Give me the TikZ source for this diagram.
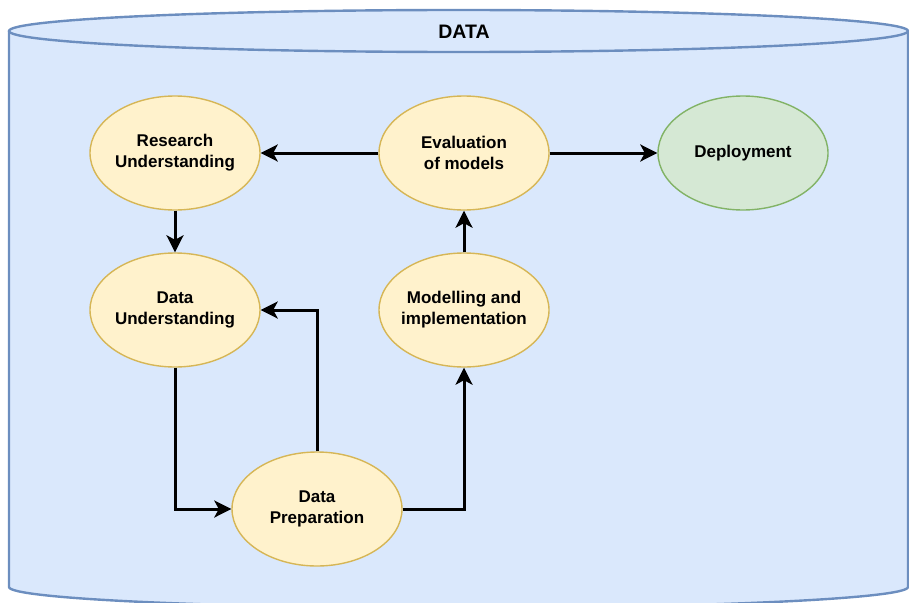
\documentclass[tikz,border=0pt]{standalone}
\usepackage{fontspec}
\setmainfont{Liberation Sans}
\usepackage{tikz}
\usetikzlibrary{arrows.meta, shapes.geometric}

\definecolor{dbfill}{HTML}{DAE8FC}
\definecolor{dbline}{HTML}{6C8EBF}
\definecolor{stepfill}{HTML}{FFF2CC}
\definecolor{stepline}{HTML}{D6B656}
\definecolor{endfill}{HTML}{D5E8D4}
\definecolor{endline}{HTML}{82B366}

\tikzset{
    phase/.style={ellipse, draw=stepline, fill=stepfill, line width=1.4pt,
        minimum width=170pt, minimum height=114pt, inner xsep=-20pt, inner ysep=0pt,
        align=center, font=\fontsize{17}{21}\selectfont\bfseries},
    final/.style={phase, draw=endline, fill=endfill},
    flow/.style={-{Stealth[length=17pt, width=17pt, inset=4.5pt]}, line width=3pt}
}

\begin{document}
\begin{tikzpicture}[x=1pt, y=-1pt]
            \useasboundingbox (0,0) rectangle (909,602);

            % database cylinder behind everything
            \fill[dbfill] (9,31) -- (9,587) arc[start angle=180, end angle=0, x radius=449.5, y radius=21] -- (908,31) -- cycle;
            \draw[dbline, line width=2.4pt] (9,31) -- (9,587) arc[start angle=180, end angle=0, x radius=449.5, y radius=21] -- (908,31);
            \draw[dbline, line width=2.4pt, fill=dbfill] (458.5,31) ellipse [x radius=449.5, y radius=21];
            \node[font=\fontsize{19.5}{23}\selectfont\bfseries] (DB) at (464,32) {DATA};

            % phases
            \node[phase] (RU) at (175,153) {Research\\Understanding};
            \node[phase] (EV) at (464,153) {Evaluation\\of models};
            \node[final] (DE) at (743,153) {Deployment};
            \node[phase] (DU) at (175,310) {Data\\Understanding};
            \node[phase] (MI) at (464,310) {Modelling and\\implementation};
            \node[phase] (DP) at (317,509) {Data\\Preparation};

            % arrows between phases
            \draw[flow] (EV.west) -- (RU.east);
            \draw[flow] (EV.east) -- (DE.west);
            \draw[flow] (RU.south) -- (DU.north);
            \draw[flow] (MI.north) -- (EV.south);
            \draw[flow] (DU.south) |- (DP.west);
            \draw[flow] (DP.north) |- (DU.east);
            \draw[flow] (DP.east) -| (MI.south);
        \end{tikzpicture}
\end{document}
